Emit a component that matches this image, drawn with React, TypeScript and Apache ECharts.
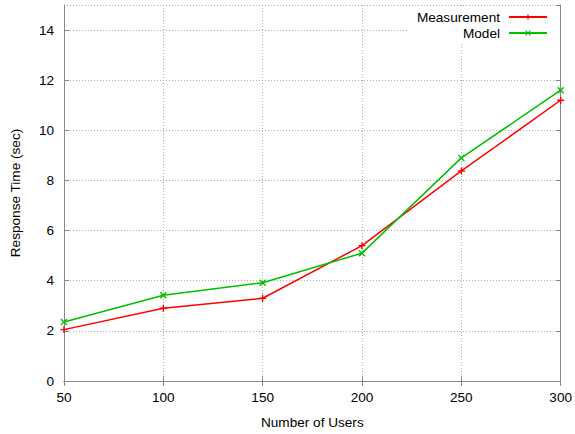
import React, { useEffect, useRef } from "react";
import * as echarts from "echarts";

const users = [50, 100, 150, 200, 250, 300];
const measurement = [2.05, 2.9, 3.3, 5.4, 8.38, 11.2];
const model = [2.35, 3.42, 3.92, 5.1, 8.9, 11.6];

const PLUS = "path://M0,2.8H7V4.2H0Z M2.8,0H4.2V7H2.8Z";
const CROSS = "path://M0,1L1,0L7,6L6,7Z M6,0L7,1L1,7L0,6Z";

const FONT = "Liberation Sans";
const FRAME = "#888888";

export default function App() {
  const ref = useRef<HTMLDivElement>(null);
  useEffect(() => {
    const chart = echarts.init(ref.current!, null, { renderer: "svg" });
    const txt = { fontFamily: FONT, fontSize: 13.6, color: "#000" };
    chart.setOption({
      animation: false,
      backgroundColor: "#fff",
      grid: { left: 64, right: 11, top: 5, bottom: 53 },
      legend: {
        orient: "vertical",
        right: 15,
        top: 6,
        align: "right",
        padding: [4, 12, 4, 8],
        itemGap: 2,
        itemWidth: 38,
        itemHeight: 7,
        backgroundColor: "#fff",
        textStyle: { ...txt, padding: [0, 4, 0, 0] },
        data: ["Measurement", "Model"],
      },
      xAxis: [
        {
          type: "value",
          min: 50,
          max: 300,
          interval: 50,
          name: "Number of Users",
          nameLocation: "middle",
          nameGap: 34,
          nameTextStyle: txt,
          axisLine: { show: true, lineStyle: { color: FRAME, width: 1 } },
          axisTick: { show: true, inside: true, length: 5, lineStyle: { color: FRAME } },
          axisLabel: { ...txt, margin: 9 },
          splitLine: { show: true, lineStyle: { color: "#b0b0b0", type: [1, 2], width: 1 } },
        },
        {
          type: "value",
          position: "top",
          min: 50,
          max: 300,
          interval: 50,
          axisLine: { show: true, lineStyle: { color: FRAME, width: 1 } },
          axisTick: { show: true, inside: true, length: 5, lineStyle: { color: FRAME } },
          axisLabel: { show: false },
          splitLine: { show: false },
        },
      ],
      yAxis: [
        {
          type: "value",
          min: 0,
          max: 15,
          interval: 2,
          name: "Response Time (sec)",
          nameLocation: "middle",
          nameGap: 42,
          nameTextStyle: txt,
          axisLine: { show: true, lineStyle: { color: FRAME, width: 1 } },
          axisTick: { show: true, inside: true, length: 5, lineStyle: { color: FRAME } },
          axisLabel: { ...txt, margin: 10, showMaxLabel: false },
          splitLine: { show: true, lineStyle: { color: "#b0b0b0", type: [1, 2], width: 1 } },
        },
        {
          type: "value",
          position: "right",
          min: 0,
          max: 15,
          interval: 2,
          axisLine: { show: true, lineStyle: { color: FRAME, width: 1 } },
          axisTick: { show: true, inside: true, length: 5, lineStyle: { color: FRAME } },
          axisLabel: { show: false },
          splitLine: { show: false },
        },
      ],
      series: [
        {
          name: "Measurement",
          type: "line",
          data: users.map((u, i) => [u, measurement[i]]),
          symbol: PLUS,
          symbolSize: 7,
          showAllSymbol: true,
          color: "#ff0000",
          lineStyle: { color: "#ff0000", width: 1.5 },
          itemStyle: { color: "#ff0000" },
          z: 3,
        },
        {
          name: "Model",
          type: "line",
          data: users.map((u, i) => [u, model[i]]),
          symbol: CROSS,
          symbolSize: 7,
          showAllSymbol: true,
          color: "#00c000",
          lineStyle: { color: "#00c000", width: 1.5 },
          itemStyle: { color: "#00c000" },
          z: 3,
        },
      ],
    });
    return () => chart.dispose();
  }, []);
  return <div ref={ref} style={{ width: 575, height: 434, position: "absolute", left: 0, top: 0 }} />;
}
